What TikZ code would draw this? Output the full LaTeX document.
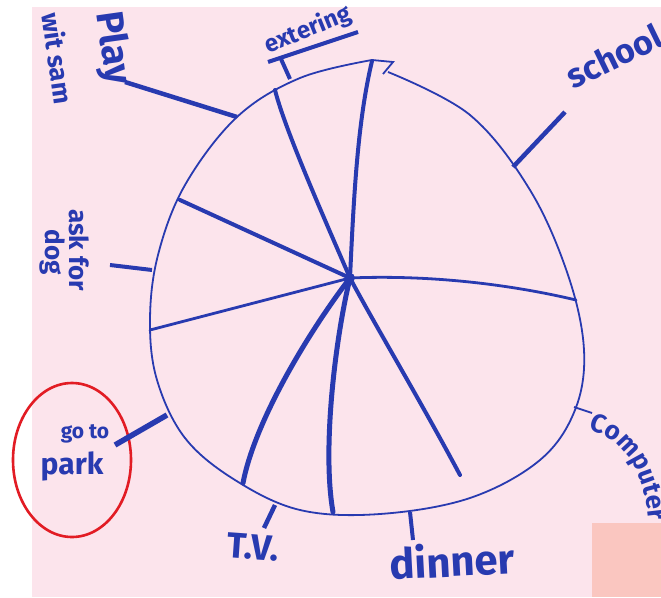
\documentclass[tikz,border=0pt]{standalone}
\usepackage{fontspec}
\setmainfont{Fira Sans}
\usetikzlibrary{decorations.text}
\definecolor{marker}{RGB}{40,58,176}
\definecolor{paper}{RGB}{252,228,236}
\definecolor{patch}{RGB}{250,198,192}
\definecolor{ring}{RGB}{226,28,36}
\newcommand{\hand}[1]{\fontsize{#1}{#1}\selectfont\bfseries}

\begin{document}
\begin{tikzpicture}[x=1pt,y=-1pt,
  rim/.style={marker,line width=1.8pt},
  spoke/.style={marker,line width=4pt,line cap=round},
  thinspoke/.style={marker,line width=2.8pt,line cap=round},
  tick/.style={marker,line width=4.5pt},
  word/.style={text=marker,inner sep=0pt}]
\useasboundingbox (0,0) rectangle (661,597);
\fill[white] (0,0) rectangle (661,597);
\fill[paper] (32,7) rectangle (661,597);
\fill[patch] (592,523) rectangle (661,597);

% the egg and its slices
\coordinate (c) at (350,278);
\coordinate (r1) at (372,61);
\coordinate (r2) at (275,90);
\coordinate (r3) at (180,200);
\coordinate (r4) at (576,300);
\coordinate (r5) at (150,330);
\coordinate (r6) at (243,483);
\coordinate (r7) at (333,512);
\coordinate (r8) at (460,475);
\draw[rim] plot[smooth, tension=0.6] coordinates {(388,72) (470,115) (530,190)
  (568,275) (584,350) (575,410) (540,460) (470,498) (380,514) (300,510)
  (235,480) (185,438) (157,380) (150,320) (158,255) (185,185) (237,117)
  (300,78) (372,60)}
  -- (393,62) -- (383,74);
\draw[spoke] (c) .. controls (354,190) and (358,120) .. (r1);
\draw[spoke] (c) .. controls (325,220) and (285,130) .. (r2);
\draw[spoke] (c) -- (r3);
\draw[thinspoke] (c) .. controls (420,275) and (500,282) .. (r4);
\draw[thinspoke] (c) -- (r5);
\draw[spoke,line width=5pt] (c) .. controls (310,330) and (255,420) .. (r6);
\draw[spoke,line width=5pt] (c) .. controls (335,340) and (322,450) .. (r7);
\draw[spoke] (c) .. controls (375,325) and (420,400) .. (r8);
\fill[marker] (c) circle (5pt);

% labels
\node[word,rotate=-82] (play) at (112,48) {\hand{38}Play};
\node[word,rotate=-82] (wit) at (58,58) {\hand{26}wit sam};
\node[word,rotate=22] (ex) at (308,30) {\hand{24}extering};
\node[word,rotate=26] (school) at (614,56) {\hand{34}school};
\node[word,rotate=-90] (ask) at (79,250) {\hand{26}ask for};
\node[word,rotate=-90] (dog) at (52,252) {\hand{26}dog};
\node[word] (goto) at (85,434) {\hand{21}go to};
\node[word] (park) at (72,466) {\hand{30}park};
\node[word,rotate=-4] (tv) at (253,547) {\hand{36}T.V.};
\node[word,rotate=3] (dinner) at (452,560) {\hand{42}dinner};
\path[decorate,decoration={text along path,
  text={|\hand{26}\color{marker}|Computer}}]
  (588,430) .. controls (625,440) and (648,470) .. (650,540);
\draw[ring,line width=2.6pt] (72,460) ellipse (59pt and 77pt);

% ticks out to the words
\coordinate (t1) at (125,82);   \coordinate (e1) at (237,117);
\coordinate (t2) at (290,79);   \coordinate (e2) at (281,59);
\coordinate (b1) at (268,62);   \coordinate (b2) at (358,32);
\coordinate (t3) at (565,112);  \coordinate (e3) at (513,167);
\coordinate (t4) at (110,265);  \coordinate (e4) at (152,270);
\coordinate (t5) at (115,445);  \coordinate (e5) at (167,415);
\coordinate (t6) at (592,413);  \coordinate (e6) at (574,407);
\coordinate (t7) at (264,528);  \coordinate (e7) at (275,505);
\coordinate (t8) at (413,540);  \coordinate (e8) at (410,512);
\draw[tick] (t1) -- (e1);
\draw[tick,line width=4pt] (t2) -- (e2);
\draw[tick,line width=4pt] (b1) -- (b2);
\draw[tick] (t3) -- (e3);
\draw[tick,line width=4pt] (t4) -- (e4);
\draw[tick,line width=5.5pt] (t5) -- (e5);
\draw[marker,line width=1.8pt] (t6) -- (e6);
\draw[tick] (t7) -- (e7);
\draw[tick,line width=4pt] (t8) -- (e8);
\end{tikzpicture}
\end{document}
